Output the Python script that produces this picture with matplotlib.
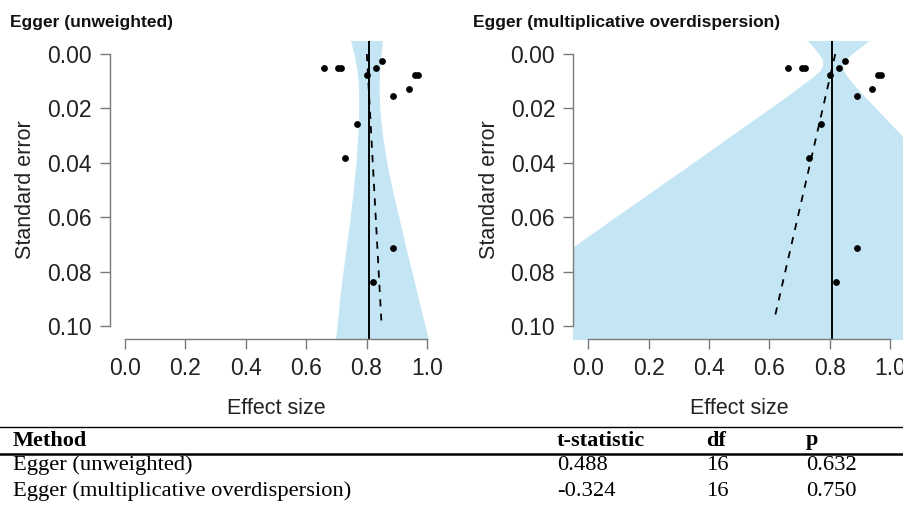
"""Egger 回归漏斗图：未加权 vs 乘法过度离散 + 下方结果表"""
import matplotlib
matplotlib.use("Agg")
import matplotlib.pyplot as plt

plt.rcParams["font.family"] = ["Liberation Sans", "DejaVu Sans"]

# ============ 数据 ============
effect = [0.660, 0.707, 0.717, 0.850, 0.830, 0.800, 0.960, 0.970,
          0.940, 0.889, 0.770, 0.730, 0.889, 0.820]
se = [0.0053, 0.0053, 0.0053, 0.0026, 0.0053, 0.0078, 0.0078, 0.0078,
      0.0129, 0.0154, 0.0257, 0.0384, 0.0714, 0.0840]
pooled = 0.807

# 回归线端点 (se -> effect)
line_se = [0.0, 0.098]
line_unw = [0.801, 0.849]
line_mult = [0.818, 0.615]

# 置信带（未加权）
band1_se = [-0.006, 0.0, 0.005, 0.01, 0.015, 0.02, 0.025, 0.03, 0.04, 0.05,
            0.06, 0.07, 0.08, 0.09, 0.1, 0.106]
band1_lo = [0.745, 0.758, 0.767, 0.772, 0.774, 0.774, 0.773, 0.771, 0.765, 0.756,
            0.746, 0.734, 0.722, 0.711, 0.702, 0.696]
band1_hi = [0.853, 0.848, 0.844, 0.842, 0.842, 0.844, 0.848, 0.853, 0.867, 0.886,
            0.907, 0.928, 0.950, 0.972, 0.994, 1.007]

# 置信带（乘法过度离散）
band2_se = [-0.006, -0.003, 0.0, 0.002, 0.004, 0.006, 0.008, 0.01, 0.015,
            0.02, 0.03, 0.04, 0.05, 0.06, 0.07, 0.08, 0.09, 0.1, 0.106]
band2_lo = [0.717, 0.742, 0.764, 0.775, 0.777, 0.767, 0.748, 0.724, 0.664,
            0.601, 0.473, 0.346, 0.217, 0.088, -0.039, -0.169, -0.296, -0.425, -0.502]
band2_hi = [0.943, 0.907, 0.872, 0.853, 0.843, 0.845, 0.856, 0.870, 0.910,
            0.953, 1.039, 1.126, 1.213, 1.300, 1.387, 1.474, 1.562, 1.649, 1.702]

titles = ["Egger (unweighted)", "Egger (multiplicative overdispersion)"]
x_ticks = [0.0, 0.2, 0.4, 0.6, 0.8, 1.0]
y_ticks = [0.00, 0.02, 0.04, 0.06, 0.08, 0.10]

table_header = ["Method", "t-statistic", "df", "p"]
table_rows = [["Egger (unweighted)", "0.488", "16", "0.632"],
              ["Egger (multiplicative overdispersion)", "-0.324", "16", "0.750"]]

BAND = "#c4e6f4"
SPINE = "#7a7a7a"

# ============ 绘图 ============
W, H = 904, 505
fig = plt.figure(figsize=(W / 100, H / 100), dpi=100)

panels = [
    (110, band1_se, band1_lo, band1_hi, line_unw, 10),
    (573.3, band2_se, band2_lo, band2_hi, line_mult, 473),
]
for i, (left_px, bse, blo, bhi, lin, title_x) in enumerate(panels):
    ax = fig.add_axes([left_px / W, (H - 339) / H, 332 / W, 298 / H])
    ax.fill_betweenx(bse, blo, bhi, color=BAND, lw=0, zorder=1)
    ax.axvline(pooled, color="black", lw=1.4, zorder=2)
    ax.plot(lin, line_se, color="black", lw=1.3, ls=(0, (4, 4)), zorder=3)
    ax.scatter(effect, se, s=24, color="black", zorder=4, linewidths=0)

    ax.set_xlim(-0.05, 1.05)
    ax.set_ylim(0.1048, -0.0048)
    ax.set_xticks(x_ticks)
    ax.set_xticklabels([f"{v:.1f}" for v in x_ticks])
    ax.set_yticks(y_ticks)
    ax.set_yticklabels([f"{v:.2f}" for v in y_ticks])
    for s in ["top", "right"]:
        ax.spines[s].set_visible(False)
    ax.spines["left"].set_bounds(0, 0.1)
    ax.spines["bottom"].set_bounds(0, 1)
    for s in ["left", "bottom"]:
        ax.spines[s].set_color(SPINE)
        ax.spines[s].set_linewidth(1.0)
    ax.tick_params(length=7, width=1.0, color=SPINE, labelsize=16.5,
                   labelcolor="#222222", pad=6)
    ax.set_xlabel("Effect size", fontsize=15.5, color="#222222")
    ax.set_ylabel("Standard error", fontsize=15.5, color="#222222")
    ax.xaxis.set_label_coords(0.5, -0.198)
    ax.yaxis.set_label_coords(-0.222, 0.5)
    ax.set_facecolor("none")

    fig.text(title_x / W, 1 - 22.5 / H, titles[i], fontsize=12.5,
             fontweight="bold", va="center", ha="left", color="#111111")

# ============ 结果表 ============
serif = ["Liberation Serif", "DejaVu Serif"]
col_x = [13, 557, 706, 806]
fig.add_artist(plt.Line2D([0, 1], [1 - 426.7 / H] * 2, color="black", lw=1.0))
fig.add_artist(plt.Line2D([0, 1], [1 - 453.5 / H] * 2, color="black", lw=1.8))
for cx, txt in zip(col_x, table_header):
    fig.text(cx / W, 1 - 440.5 / H, txt, fontsize=16, fontweight="bold",
             family=serif, va="center", ha="left")
for ry, row in zip([465, 491], table_rows):
    for cx, txt in zip(col_x, row):
        fig.text(cx / W, 1 - ry / H, txt, fontsize=16.2, family=serif,
                 va="center", ha="left")

fig.savefig("out.png", dpi=100, facecolor="white")
